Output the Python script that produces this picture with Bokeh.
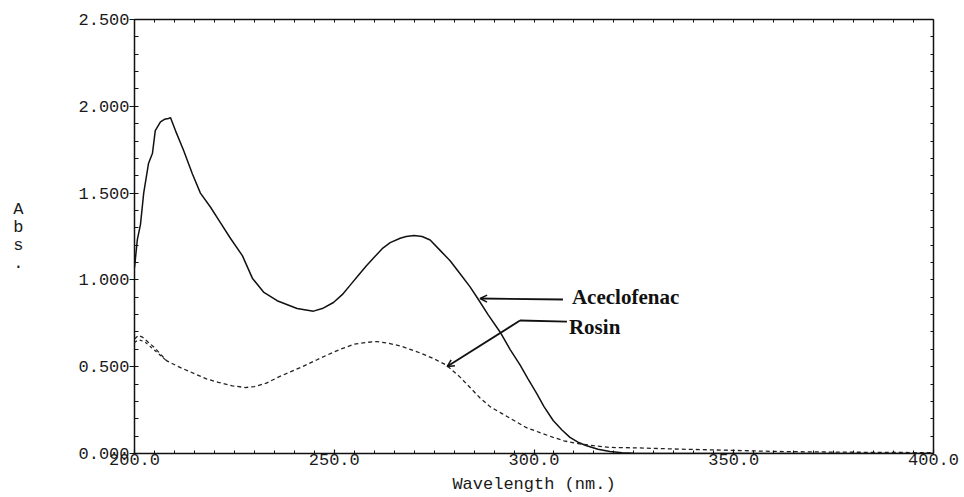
from bokeh.plotting import figure
from bokeh.models import (Range1d, LinearAxis, SingleIntervalTicker, FixedTicker,
                          NumeralTickFormatter, Label, Arrow, OpenHead)
from bokeh.embed import file_html
from bokeh.resources import INLINE

# ---- data ----
acec_wl = [200, 200.7, 201.5, 202.3, 203.5, 204.5, 205.2, 206.5, 207.5, 208.5, 209, 210.25,
           212.3, 214.5, 216.5, 219, 221.5, 224, 227, 229.5, 232.3, 235.7, 240.7, 244.8, 247,
           249.8, 252, 254, 256, 258, 260, 262, 264, 266.5, 268, 270, 272, 274, 276.5, 279,
           281.5, 284, 286, 288.5, 291.5, 294, 296.5, 298.5, 300.7, 302.5, 304.8, 307, 309,
           311, 313, 316, 319, 322, 325, 330, 350, 400]
acec_abs = [1.07, 1.23, 1.32, 1.50, 1.67, 1.73, 1.86, 1.91, 1.925, 1.93, 1.935, 1.86,
            1.745, 1.61, 1.50, 1.42, 1.33, 1.24, 1.14, 1.01, 0.93, 0.88, 0.835, 0.82, 0.835,
            0.87, 0.915, 0.97, 1.025, 1.08, 1.13, 1.18, 1.215, 1.24, 1.25, 1.256, 1.25, 1.23,
            1.17, 1.11, 1.035, 0.96, 0.89, 0.80, 0.70, 0.60, 0.51, 0.43, 0.345, 0.27, 0.19,
            0.135, 0.093, 0.065, 0.046, 0.025, 0.012, 0.005, 0.002, 0.0, 0.0, 0.0]

rosin_wl = [200, 201, 202, 203.5, 205, 208, 211, 215, 218, 221, 224.5, 227.7, 230, 233, 236,
            239, 241.5, 245.7, 248, 251.5, 255, 258, 260.7, 263.5, 266.5, 269, 272, 275, 278,
            281.5, 284, 286.5, 289, 292, 295, 298, 301.5, 304.8, 307.5, 310.7, 315, 319,
            326.5, 336.5, 350, 360, 375, 390, 400]
rosin_abs = [0.66, 0.68, 0.67, 0.64, 0.61, 0.535, 0.50, 0.46, 0.43, 0.41, 0.39, 0.38, 0.385,
             0.405, 0.44, 0.47, 0.495, 0.54, 0.565, 0.60, 0.63, 0.64, 0.645, 0.635, 0.62, 0.60,
             0.575, 0.545, 0.51, 0.44, 0.38, 0.32, 0.27, 0.23, 0.19, 0.15, 0.12, 0.093, 0.073,
             0.058, 0.045, 0.035, 0.032, 0.025, 0.018, 0.012, 0.008, 0.006, 0.005]

# second (overlapping) Rosin scan visible only near the start
rosin2_wl = [200, 201, 202.5, 204, 206, 208]
rosin2_abs = [0.64, 0.655, 0.645, 0.615, 0.575, 0.535]

x_label = "Wavelength (nm.)"
y_label = "A\nb\ns\n."
series_names = ["Aceclofenac", "Rosin"]
x_minor_positions = list(range(200, 401, 5))
y_minor_positions = [i / 10 for i in range(0, 26)]

MONO = "Liberation Mono"
SERIF = "Liberation Serif"

p = figure(frame_width=799, frame_height=434, output_backend="svg", toolbar_location=None,
           x_range=Range1d(200, 400), y_range=Range1d(0, 2.5),
           x_axis_location=None, y_axis_location=None,
           min_border_left=134, min_border_right=30, min_border_top=19, min_border_bottom=43)
p.grid.visible = False
p.outline_line_color = None
p.background_fill_color = "white"
p.border_fill_color = "white"

def style_axis(ax, tick_in, minor_in, tick_out=0):
    ax.axis_line_color = "#111111"
    ax.axis_line_width = 1.5
    ax.major_tick_line_color = "#111111"
    ax.minor_tick_line_color = "#111111"
    ax.major_tick_line_width = 1.2
    ax.minor_tick_line_width = 1.0
    ax.major_tick_in = tick_in
    ax.major_tick_out = tick_out
    ax.minor_tick_in = minor_in
    ax.minor_tick_out = 0
    ax.major_label_text_font = MONO
    ax.major_label_text_font_size = "17px"
    ax.major_label_text_color = "#1a1a1a"
    ax.major_label_standoff = 1

bottom = LinearAxis(ticker=SingleIntervalTicker(interval=50, num_minor_ticks=10),
                    formatter=NumeralTickFormatter(format="0.0"))
style_axis(bottom, 4, 3)
bottom.major_label_standoff = 0
bottom.axis_label = x_label
bottom.axis_label_text_font = MONO
bottom.axis_label_text_font_size = "17px"
bottom.axis_label_text_font_style = "normal"
bottom.axis_label_text_color = "#1a1a1a"
bottom.axis_label_standoff = 7
p.add_layout(bottom, "below")

left = LinearAxis(ticker=SingleIntervalTicker(interval=0.5, num_minor_ticks=5),
                  formatter=NumeralTickFormatter(format="0.000"))
style_axis(left, 0, 4, tick_out=5)
left.major_label_standoff = 0
left.axis_label = y_label
left.axis_label_text_font = MONO
left.axis_label_text_font_size = "17px"
left.axis_label_text_font_style = "normal"
left.axis_label_text_color = "#1a1a1a"
left.axis_label_text_line_height = 0.95
left.axis_label_orientation = "horizontal"
left.axis_label_standoff = 52
p.add_layout(left, "left")

# frame axes on top and right: ticks only, no labels
top = LinearAxis(ticker=FixedTicker(ticks=[], minor_ticks=x_minor_positions))
style_axis(top, 3, 3)
top.major_label_standoff = 0
p.add_layout(top, "above")

right = LinearAxis(ticker=FixedTicker(ticks=[], minor_ticks=y_minor_positions))
style_axis(right, 3, 3)
right.major_label_standoff = 0
p.add_layout(right, "right")

p.line(acec_wl, acec_abs, line_color="#111111", line_width=1.5)
p.line(rosin_wl, rosin_abs, line_color="#222222", line_width=1.3, line_dash="4 3")
p.line(rosin2_wl, rosin2_abs, line_color="#222222", line_width=1.2, line_dash="3 3")

# annotations
p.add_layout(Arrow(x_start=307.25, y_start=0.887, x_end=286.5, y_end=0.893,
                   line_width=1.8, line_color="#111111",
                   end=OpenHead(size=7, line_width=1.5, line_color="#111111")))
p.add_layout(Label(x=309.5, y=0.899, text=series_names[0], text_font=SERIF,
                   text_font_size="21px", text_font_style="bold", text_baseline="middle",
                   text_color="#111111"))

p.segment(x0=[308.25], y0=[0.760], x1=[296.5], y1=[0.766], line_width=1.8, line_color="#111111")
p.add_layout(Arrow(x_start=296.5, y_start=0.766, x_end=278.25, y_end=0.501,
                   line_width=1.8, line_color="#111111",
                   end=OpenHead(size=7, line_width=1.5, line_color="#111111")))
p.add_layout(Label(x=308.75, y=0.726, text=series_names[1], text_font=SERIF,
                   text_font_size="21px", text_font_style="bold", text_baseline="middle",
                   text_color="#111111"))

open("out.html", "w").write(file_html(p, INLINE))
